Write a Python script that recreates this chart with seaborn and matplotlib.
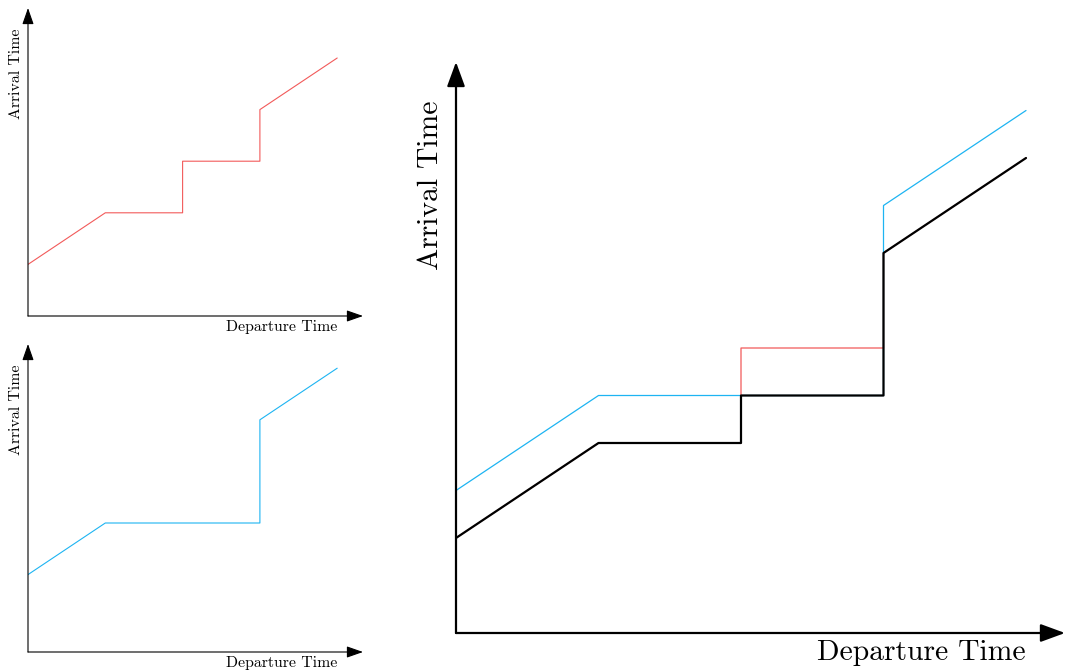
import matplotlib
matplotlib.use("Agg")
import matplotlib.pyplot as plt
import seaborn as sns
import pandas as pd

# ---- data (departure -> arrival profiles) ----
red_x = [0, 1, 2, 2, 3, 3, 4]
red_y = [1, 2, 2, 3, 3, 4, 5]
blue_x = [0, 1, 3, 3, 4]
blue_y = [1.5, 2.5, 2.5, 4.5, 5.5]
min_x = [0, 1, 2, 2, 3, 3, 4]
min_y = [1, 2, 2, 2.5, 2.5, 4, 5]

x_label = "Departure Time"
y_label = "Arrival Time"

RED = "#f25a5a"
BLUE = "#1db4f2"

sns.set_style("white")
plt.rcParams["font.family"] = ["cmr10", "DejaVu Serif"]
plt.rcParams["axes.unicode_minus"] = False
plt.rcParams["axes.formatter.use_mathtext"] = True
plt.rcParams["text.color"] = "black"

W, H = 1067, 672
fig = plt.figure(figsize=(W / 100, H / 100), dpi=100)


def make_ax(ox, oy, xend, ytop):
    return fig.add_axes([ox / W, (H - oy) / H, (xend - ox) / W, (oy - ytop) / H])


def draw_arrows(ax, lw, hl, hw, ms):
    style = f"-|>,head_length={hl},head_width={hw}"
    for end in [(1, 0), (0, 1)]:
        ax.annotate("", xy=end, xytext=(0, 0), xycoords="axes fraction",
                    textcoords="axes fraction",
                    arrowprops=dict(arrowstyle=style, lw=lw, color="black",
                                    shrinkA=0, shrinkB=0, mutation_scale=ms))


def line(ax, xs, ys, color, lw):
    df = pd.DataFrame({"x": xs, "y": ys})
    sns.lineplot(data=df, x="x", y="y", sort=False, estimator=None, ax=ax,
                 color=color, lw=lw)


SMALL_FS = 11.4
BIG_FS = 21.3

# top-left panel
ax1 = make_ax(28, 316, 363, 8)
ax1.set_xlim(0, 335 / 77.3)
ax1.set_ylim(0, 308 / 51.6)
line(ax1, red_x, red_y, RED, 0.8)
ax1.set_axis_off()
draw_arrows(ax1, 0.8, 1.0, 0.35, 10)
ax1.text(4, -0.08, x_label, ha="right", va="top", fontsize=SMALL_FS)
ax1.text(-0.15, 5.58, y_label, ha="center", va="top", rotation=90, fontsize=SMALL_FS)

# bottom-left panel
ax2 = make_ax(28, 652, 363, 344)
ax2.set_xlim(0, 335 / 77.3)
ax2.set_ylim(0, 308 / 51.6)
line(ax2, blue_x, blue_y, BLUE, 0.8)
ax2.set_axis_off()
draw_arrows(ax2, 0.8, 1.0, 0.35, 10)
ax2.text(4, -0.08, x_label, ha="right", va="top", fontsize=SMALL_FS)
ax2.text(-0.15, 5.58, y_label, ha="center", va="top", rotation=90, fontsize=SMALL_FS)

# big right panel
ax3 = make_ax(456, 633, 1065, 62)
ax3.set_xlim(0, 609 / 142.5)
ax3.set_ylim(0, 571 / 95)
line(ax3, blue_x, blue_y, BLUE, 0.9)
line(ax3, red_x, red_y, RED, 0.9)
line(ax3, min_x, min_y, "black", 1.6)
ax3.set_axis_off()
draw_arrows(ax3, 1.6, 1.5, 0.55, 10)
ax3.text(4, -0.07, x_label, ha="right", va="top", fontsize=BIG_FS)
ax3.text(-0.18, 5.61, y_label, ha="center", va="top", rotation=90, fontsize=BIG_FS)

fig.savefig("out.png", dpi=100, facecolor="white")
